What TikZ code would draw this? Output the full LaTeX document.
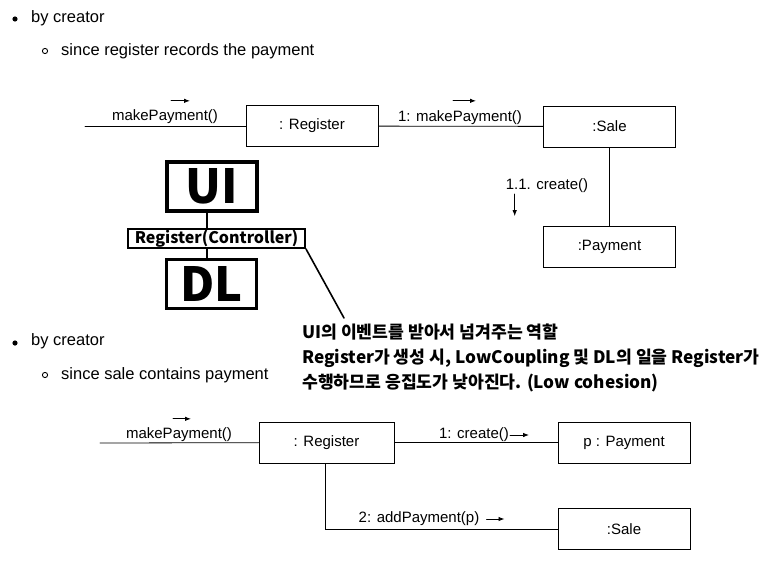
\documentclass[tikz,border=0pt]{standalone}
\usepackage{fontspec}
\setmainfont{Liberation Sans}
\newfontfamily\krfont{Noto Sans CJK KR}
\usetikzlibrary{positioning,arrows.meta}

\begin{document}
\begin{tikzpicture}[x=1pt, y=-1pt, line cap=round]
  % styles
  \tikzset{
    obj/.style={draw, line width=0.8pt, minimum width=132pt, minimum height=41pt, font=\fontsize{15}{17}\selectfont},
    msg/.style={font=\fontsize{15}{17}\selectfont, inner sep=1pt},
    msgarrow/.style={-{Latex[length=6pt,width=4.5pt]}, line width=0.9pt},
    item/.style={anchor=west, inner sep=0pt, font=\fontsize{16.5}{19}\selectfont},
    layer/.style={draw, line width=3.5pt, minimum width=90pt, minimum height=49pt, inner sep=0pt, font=\krfont\bfseries\fontsize{47}{47}\selectfont},
    ctrl/.style={draw, line width=2pt, minimum width=177pt, minimum height=19pt, inner sep=0pt, font=\krfont\bfseries\fontsize{16}{17}\selectfont},
    note/.style={anchor=north west, align=left, inner sep=0pt, font=\krfont\bfseries\fontsize{17.2}{25}\selectfont}
  }
  \useasboundingbox (0,0) rectangle (773,568);
  % bullets
  \fill (15,19) circle (2.6pt);
  \node[item] (b1) at (31,18) {by creator};
  \draw[line width=0.9pt] (45,51) circle (2.6pt);
  \node[item] (s1) at (61,51) {since register records the payment};
  \fill (15,343) circle (2.6pt);
  \node[item] (b2) at (31,341) {by creator};
  \draw[line width=0.9pt] (45,375) circle (2.6pt);
  \node[item] (s2) at (61,375) {since sale contains payment};

  % upper diagram
  \node[obj] (reg1) at (312,126) {: Register};
  \node[obj] (sale1) at (609.5,126.5) {:Sale};
  \node[obj] (pay1) at (609.5,247) {:Payment};
  \coordinate (in1) at (85,126);
  \draw[line width=0.8pt] (in1) -- (reg1);
  \draw[line width=0.8pt] (reg1) -- (sale1);
  \draw[line width=0.8pt] (sale1) -- (pay1);
  \node[msg] (mp1) at (165,117) {makePayment()};
  \draw[msgarrow] ([shift={(6,-8)}]mp1.north) -- ++(19,0);
  \node[msg] (mp1b) at (460,118) {1: makePayment()};
  \draw[msgarrow] ([shift={(-7,-9)}]mp1b.north) -- ++(23,0);
  \node[msg] (cr1) at (547,186) {1.1. create()};
  \draw[msgarrow] ([shift={(10,0)}]cr1.south west) -- ++(0,22);

  % layers
  \node[layer] (ui) at (212,186.5) {UI};
  \node[ctrl] (ctl) at (216.5,238.5) {Register(Controller)};
  \node[layer] (dl) at (211.5,284) {DL};
  \draw[line width=2pt] ([xshift=-5pt]ui.south) -- ([xshift=-5pt]ui.south |- ctl.north);
  \draw[line width=2pt] ([xshift=-4.5pt]dl.north |- ctl.south) -- ([xshift=-4.5pt]dl.north);
  \coordinate (tip) at (344,318);
  \draw[line width=1.6pt] (ctl.south east) -- (tip);
  \node[note] (txt) at (302,324) {UI의 이벤트를 받아서 넘겨주는 역할\\Register가 생성 시, LowCoupling 및 DL의 일을 Register가\\수행하므로 응집도가 낮아진다. (Low cohesion)};

  % lower diagram
  \node[obj, minimum width=135pt] (reg2) at (326.5,442.5) {: Register};
  \node[obj] (pay2) at (624,442.5) {p : Payment};
  \node[obj] (sale2) at (624,529) {:Sale};
  \coordinate (in2) at (100,443);
  \draw[line width=0.8pt] (in2) -- (reg2);
  \draw[line width=0.8pt] (reg2) -- (pay2);
  \draw[line width=0.8pt] ([xshift=-1.5pt]reg2.south) |- (sale2.west);
  \node[msg] (mp2) at (179,435) {makePayment()};
  \draw[msgarrow] ([shift={(-6,-8)}]mp2.north) -- ++(18,0);
  \node[msg] (cr2) at (474,435) {1: create()};
  \draw[msgarrow] (cr2.east) -- ++(19,0);
  \node[msg] (add2) at (419,519) {2: addPayment(p)};
  \draw[msgarrow] ([xshift=6pt]add2.east) -- ++(18,0);
\end{tikzpicture}
\end{document}
